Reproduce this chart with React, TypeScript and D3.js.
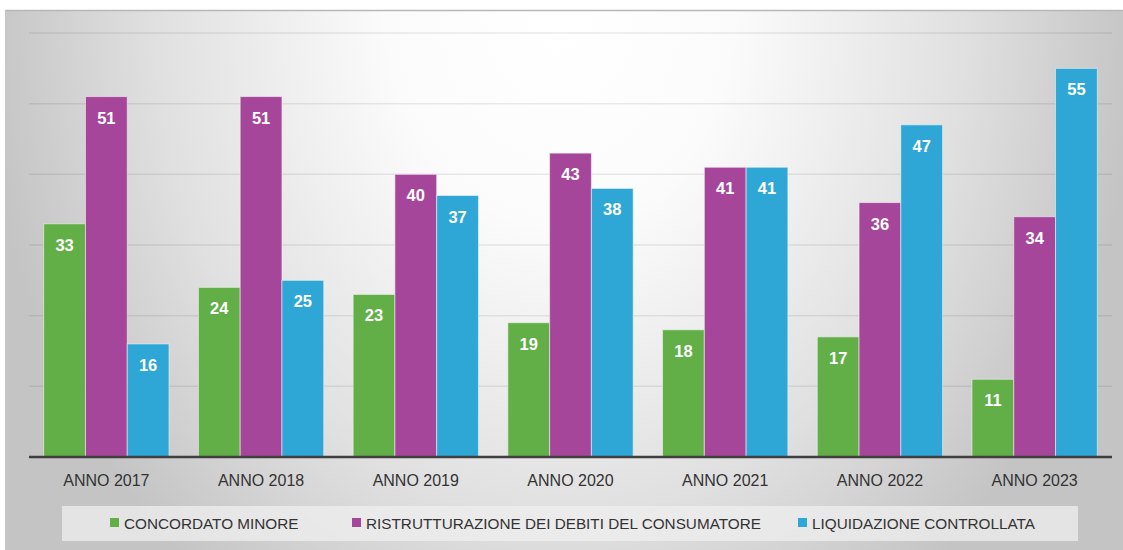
import React, { useEffect, useRef } from "react";
import * as d3 from "d3";

const years = ["ANNO 2017", "ANNO 2018", "ANNO 2019", "ANNO 2020", "ANNO 2021", "ANNO 2022", "ANNO 2023"];
const seriesNames = ["CONCORDATO MINORE", "RISTRUTTURAZIONE DEI DEBITI DEL CONSUMATORE", "LIQUIDAZIONE CONTROLLATA"];
const concordato = [33, 24, 23, 19, 18, 17, 11];
const ristrutturazione = [51, 51, 40, 43, 41, 36, 34];
const liquidazione = [16, 25, 37, 38, 41, 47, 55];
const gridTicks = [10, 20, 30, 40, 50, 60];
const colors = ["#62ae47", "#a6469b", "#2ea6d6"];

const W = 1123, H = 550;
const FONT = "'Liberation Sans', Arial, sans-serif";

const App = () => {
  const ref = useRef<SVGSVGElement>(null);

  useEffect(() => {
    const svg = d3.select(ref.current);
    svg.selectAll("*").remove();

    const margin = { top: 33, right: 11, bottom: 93, left: 29 };
    const series = [concordato, ristrutturazione, liquidazione];

    const defs = svg.append("defs");
    const grad = defs.append("radialGradient")
      .attr("id", "bg")
      .attr("gradientUnits", "userSpaceOnUse")
      .attr("cx", 560).attr("cy", 10).attr("r", 580)
      .attr("gradientTransform", "translate(560,10) scale(1,1.25) translate(-560,-10)");
    grad.append("stop").attr("offset", "0%").attr("stop-color", "#ffffff");
    grad.append("stop").attr("offset", "30%").attr("stop-color", "#fbfbfb");
    grad.append("stop").attr("offset", "70%").attr("stop-color", "#e0e0e0");
    grad.append("stop").attr("offset", "100%").attr("stop-color", "#c4c4c4");

    svg.append("rect").attr("width", W).attr("height", H).attr("fill", "#ffffff");
    svg.append("rect")
      .attr("x", 5).attr("y", 10)
      .attr("width", W - 5).attr("height", H - 10)
      .attr("fill", "url(#bg)");
    svg.append("line").attr("x1", 5).attr("x2", W).attr("y1", 10.5).attr("y2", 10.5)
      .attr("stroke", "#b8b8b8").attr("stroke-width", 1.5);
    svg.append("line").attr("x1", 5.5).attr("x2", 5.5).attr("y1", 10).attr("y2", H)
      .attr("stroke", "#c6c6c6").attr("stroke-width", 1);

    const x = d3.scaleBand()
      .domain(years)
      .range([margin.left, W - margin.right])
      .paddingInner(0.19)
      .paddingOuter(0.095);

    const y = d3.scaleLinear()
      .domain([0, 60])
      .range([H - margin.bottom, margin.top]);

    const xs = d3.scaleBand()
      .domain(seriesNames)
      .range([0, x.bandwidth()]);

    // grid
    svg.append("g")
      .selectAll("line")
      .data(gridTicks)
      .join("line")
      .attr("x1", margin.left)
      .attr("x2", W - margin.right)
      .attr("y1", d => y(d))
      .attr("y2", d => y(d))
      .attr("stroke", "#000000")
      .attr("stroke-opacity", 0.08)
      .attr("stroke-width", 1.5);

    // bars
    const groups = svg.append("g")
      .selectAll("g")
      .data(years)
      .join("g")
      .attr("transform", d => `translate(${x(d)},0)`);

    groups.selectAll("rect")
      .data((d, i) => series.map((s, k) => ({ name: seriesNames[k], v: s[i], k })))
      .join("rect")
      .attr("x", d => xs(d.name)!)
      .attr("y", d => y(d.v))
      .attr("width", xs.bandwidth())
      .attr("height", d => y(0) - y(d.v))
      .attr("fill", d => colors[d.k])
      .attr("stroke", "#f2f2f2")
      .attr("stroke-opacity", 0.6)
      .attr("stroke-width", 1);

    groups.selectAll("text")
      .data((d, i) => series.map((s, k) => ({ name: seriesNames[k], v: s[i], k })))
      .join("text")
      .attr("x", d => xs(d.name)! + xs.bandwidth() / 2)
      .attr("y", d => y(d.v) + 27)
      .attr("text-anchor", "middle")
      .attr("fill", "#ffffff")
      .attr("font-family", FONT)
      .attr("font-weight", "bold")
      .attr("font-size", 16.5)
      .text(d => d.v);

    // baseline
    svg.append("line")
      .attr("x1", margin.left).attr("x2", W - margin.right)
      .attr("y1", y(0)).attr("y2", y(0))
      .attr("stroke", "#3f3f3f").attr("stroke-width", 2.5);

    // x labels
    svg.append("g")
      .selectAll("text")
      .data(years)
      .join("text")
      .attr("x", d => x(d)! + x.bandwidth() / 2)
      .attr("y", y(0) + 29)
      .attr("text-anchor", "middle")
      .attr("fill", "#333333")
      .attr("font-family", FONT)
      .attr("font-size", 16)
      .text(d => d);

    // legend
    svg.append("rect")
      .attr("x", 62).attr("y", 506)
      .attr("width", 1016).attr("height", 35)
      .attr("fill", "#efefef").attr("fill-opacity", 0.75);

    const legendX = [110, 352, 798];
    const lg = svg.append("g")
      .selectAll("g")
      .data(seriesNames)
      .join("g")
      .attr("transform", (d, i) => `translate(${legendX[i]},523)`);
    lg.append("rect")
      .attr("x", 0).attr("y", -5)
      .attr("width", 9).attr("height", 9)
      .attr("fill", (d, i) => colors[i]);
    lg.append("text")
      .attr("x", 14).attr("y", 6)
      .attr("fill", "#333333")
      .attr("font-family", FONT)
      .attr("font-size", 15.3)
      .text(d => d);
  }, []);

  return (
    <svg ref={ref} width={W} height={H} style={{ position: "absolute", left: 0, top: 0 }} />
  );
};

export default App;
